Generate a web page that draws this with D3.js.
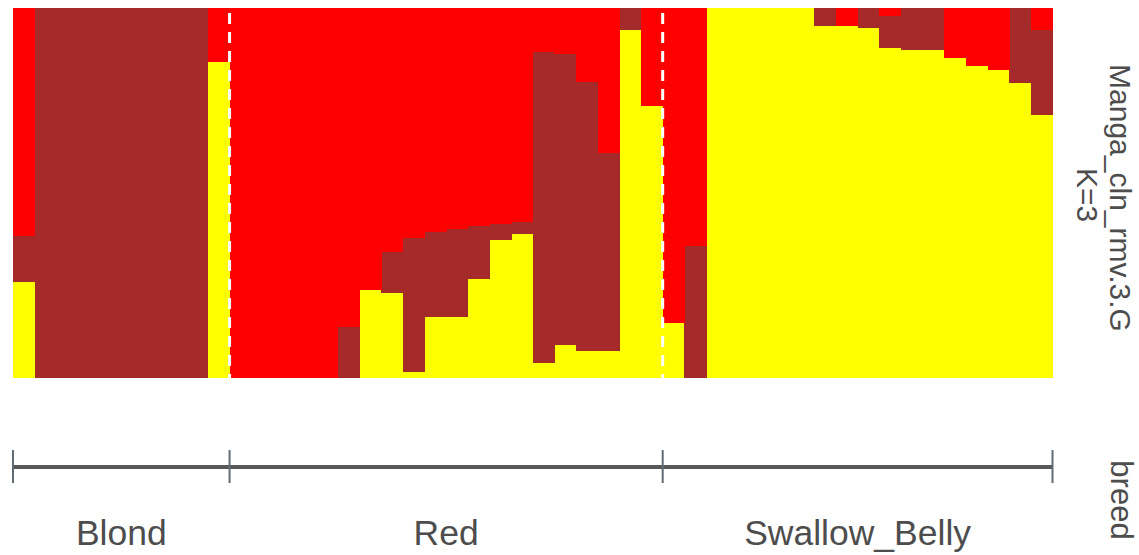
<!DOCTYPE html>
<html>
<head>
<meta charset="utf-8">
<script src="https://cdn.jsdelivr.net/npm/d3@7"></script>
<style>
  body { margin: 0; background: #fff; }
  svg text { font-family: "Liberation Sans", Arial, sans-serif; fill: #4d4d4d; }
</style>
</head>
<body>
<div id="chart"></div>
<script>
// breeds and how many individuals each has (in plot order)
const breeds = ["Blond", "Red", "Swallow_Belly"];
const breedCounts = [10, 20, 18];

// ancestry proportions per individual, K=3 (bottom to top: yellow, brown, red)
const qYellow = [
    0.259, 0, 0, 0, 0, 0, 0, 0, 0, 0.854,
    0, 0, 0, 0, 0, 0, 0.239, 0.229, 0.015, 0.164,
    0.164, 0.267, 0.374, 0.389, 0.041, 0.090, 0.073, 0.073, 0.940, 0.736,
    0.148, 0, 1, 1, 1, 1, 1, 0.951, 0.951, 0.945,
    0.891, 0.886, 0.886, 0.866, 0.844, 0.832, 0.796, 0.711
];
const qBrown = [
    0.124, 1, 1, 1, 1, 1, 1, 1, 1, 0,
    0, 0, 0, 0, 0, 0.137, 0, 0.111, 0.363, 0.230,
    0.239, 0.143, 0.042, 0.032, 0.839, 0.786, 0.728, 0.534, 0.060, 0,
    0, 0.357, 0, 0, 0, 0, 0, 0.049, 0, 0.055,
    0.088, 0.114, 0.114, 0, 0, 0, 0.204, 0.230
];
const qRed = [
    0.617, 0, 0, 0, 0, 0, 0, 0, 0, 0.146,
    1, 1, 1, 1, 1, 0.863, 0.761, 0.660, 0.622, 0.606,
    0.597, 0.590, 0.584, 0.579, 0.120, 0.124, 0.199, 0.393, 0, 0.264,
    0.852, 0.643, 0, 0, 0, 0, 0, 0, 0.049, 0,
    0.021, 0, 0, 0.134, 0.156, 0.168, 0, 0.059
];

const clusterKeys = ["yellow", "brown", "red"];
const clusterColors = { yellow: "#ffff00", brown: "#a52a2a", red: "#ff0000" };

const width = 1139, height = 555;
const plot = { left: 13, right: 1052.5, top: 8, bottom: 378 };

const rows = qYellow.map((d, i) => ({ id: i, yellow: d, brown: qBrown[i], red: qRed[i] }));
const n = rows.length;

const svg = d3.select("#chart").append("svg")
    .attr("width", width)
    .attr("height", height);

const x = d3.scaleLinear().domain([0, n]).range([plot.left, plot.right]);
const y = d3.scaleLinear().domain([0, 1]).range([plot.bottom, plot.top]);

const series = d3.stack().keys(clusterKeys)(rows);

svg.append("g")
    .selectAll("g")
    .data(series)
    .join("g")
    .attr("fill", s => clusterColors[s.key])
    .selectAll("rect")
    .data(s => s)
    .join("rect")
    .attr("x", d => x(d.data.id))
    .attr("width", d => x(d.data.id + 1) - x(d.data.id) + 0.5)
    .attr("y", d => y(Math.min(d[1], 1)))
    .attr("height", d => Math.max(0, y(d[0]) - y(Math.min(d[1], 1))))
    .attr("shape-rendering", "crispEdges");

// group boundaries
const bounds = [0];
breedCounts.forEach(c => bounds.push(bounds[bounds.length - 1] + c));

// dashed separators inside the plot
svg.append("g")
    .selectAll("line")
    .data(bounds.slice(1, -1))
    .join("line")
    .attr("x1", d => x(d))
    .attr("x2", d => x(d))
    .attr("y1", 13)
    .attr("y2", plot.bottom)
    .attr("stroke", "#fff")
    .attr("stroke-width", 3)
    .attr("stroke-dasharray", "11,8");

// breed bar under the plot
const axisY = 467;
svg.append("line")
    .attr("x1", x(0)).attr("x2", x(n))
    .attr("y1", axisY).attr("y2", axisY)
    .attr("stroke", "#585858")
    .attr("stroke-width", 4);

svg.append("g")
    .selectAll("line")
    .data(bounds)
    .join("line")
    .attr("x1", d => x(d))
    .attr("x2", d => x(d))
    .attr("y1", axisY - 17)
    .attr("y2", axisY + 16)
    .attr("stroke", "#5f6b77")
    .attr("stroke-width", 2);

svg.append("g")
    .selectAll("text")
    .data(breeds)
    .join("text")
    .attr("x", (d, i) => x((bounds[i] + bounds[i + 1]) / 2))
    .attr("y", 545)
    .attr("text-anchor", "middle")
    .style("font-size", "35.5px")
    .text(d => d);

// right-hand strip labels
svg.append("text")
    .attr("transform", "translate(1110,198) rotate(90)")
    .attr("text-anchor", "middle")
    .style("font-size", "30px")
    .text("Manga_cln_rmv.3.G");

svg.append("text")
    .attr("transform", "translate(1077,195) rotate(90)")
    .attr("text-anchor", "middle")
    .style("font-size", "30px")
    .text("K=3");

svg.append("text")
    .attr("transform", "translate(1111,500) rotate(90)")
    .attr("text-anchor", "middle")
    .style("font-size", "31px")
    .text("breed");
</script>
</body>
</html>
